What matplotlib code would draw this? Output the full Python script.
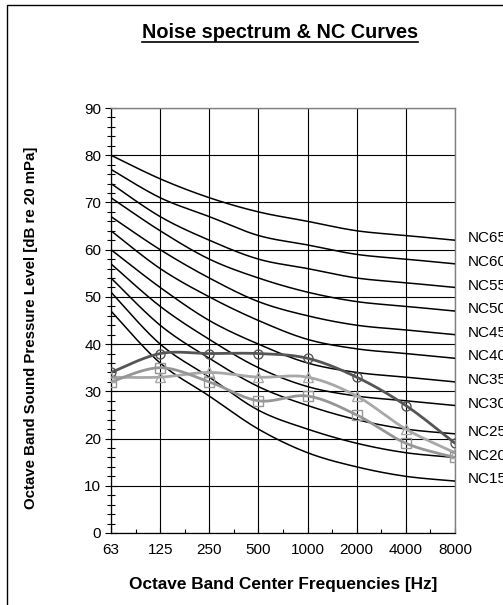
import matplotlib
matplotlib.use("Agg")
import matplotlib.pyplot as plt
import numpy as np
from matplotlib.patches import Rectangle
from matplotlib.ticker import MultipleLocator, FixedLocator
import matplotlib.transforms as mtransforms

plt.rcParams["font.family"] = ["Liberation Sans", "DejaVu Sans"]

freqs = ["63", "125", "250", "500", "1000", "2000", "4000", "8000"]

nc_names = ["NC65", "NC60", "NC55", "NC50", "NC45", "NC40",
            "NC35", "NC30", "NC25", "NC20", "NC15"]
nc65 = [80, 75, 71, 68, 66, 64, 63, 62]
nc60 = [77, 71, 67, 63, 61, 59, 58, 57]
nc55 = [74, 67, 62, 58, 56, 54, 53, 52]
nc50 = [71, 64, 58, 54, 51, 49, 48, 47]
nc45 = [67, 60, 54, 49, 46, 44, 43, 42]
nc40 = [64, 56, 50, 45, 41, 39, 38, 37]
nc35 = [60, 52, 45, 40, 36, 34, 33, 32]
nc30 = [57, 48, 41, 35, 31, 29, 28, 27]
nc25 = [54, 44, 37, 31, 27, 24, 22, 21]
nc20 = [51, 40, 33, 26, 22, 19, 17, 16]
nc15 = [47, 36, 29, 22, 17, 14, 12, 11]
nc_curves = [nc65, nc60, nc55, nc50, nc45, nc40, nc35, nc30, nc25, nc20, nc15]

spec_circle = [34, 38, 38, 38, 37, 33, 27, 19]
spec_triangle = [33, 33, 34, 33, 33, 29, 22, 17]
spec_square = [32, 35, 32, 28, 29, 25, 19, 16]


def smooth(y, n=30):
    # Excel-style smoothed line: cubic Bezier segments, tension 1/6
    pts = np.column_stack([np.arange(len(y)), y]).astype(float)
    out = [pts[0]]
    for i in range(len(pts) - 1):
        p0 = pts[max(i - 1, 0)]
        p1 = pts[i]
        p2 = pts[i + 1]
        p3 = pts[min(i + 2, len(pts) - 1)]
        c1 = p1 + (p2 - p0) / 6
        c2 = p2 - (p3 - p1) / 6
        t = np.linspace(0, 1, n)[1:, None]
        seg = ((1 - t) ** 3 * p1 + 3 * (1 - t) ** 2 * t * c1
               + 3 * (1 - t) * t ** 2 * c2 + t ** 3 * p2)
        out.extend(seg)
    out = np.array(out)
    return out[:, 0], out[:, 1]


W, H = 503, 605
fig = plt.figure(figsize=(W / 100, H / 100), dpi=100)
ax = fig.add_axes([111 / W, 1 - 533 / H, 344 / W, 425 / H])

x = np.arange(len(freqs))

for ys in nc_curves:
    sx, sy = smooth(ys)
    ax.plot(sx, sy, color="black", lw=1.1, zorder=3)

trans = mtransforms.blended_transform_factory(ax.transAxes, ax.transData)
for name, ys in zip(nc_names, nc_curves):
    ax.text(1 + 13 / 344, ys[-1] + 0.4, name, transform=trans,
            fontsize=11, va="center", ha="left", clip_on=False)

series = [
    (spec_circle, "#555555", "o"),
    (spec_triangle, "#a8a8a8", "^"),
    (spec_square, "#969696", "s"),
]
for ys, col, mk in series:
    sx, sy = smooth(ys)
    ax.plot(sx, sy, color=col, lw=2.0, zorder=4, solid_capstyle="round")
    ax.plot(x, ys, ls="none", marker=mk, ms=6.5, mfc="none",
            mec=col, mew=1.0, zorder=5)

ax.set_xlim(0, len(freqs) - 1)
ax.set_ylim(0, 90)
ax.set_xticks(x)
ax.set_xticklabels(freqs, fontsize=11)
ax.xaxis.set_minor_locator(FixedLocator(x[:-1] + 0.5))
ax.yaxis.set_major_locator(MultipleLocator(10))
ax.yaxis.set_minor_locator(MultipleLocator(2))
ax.tick_params(axis="y", which="major", direction="inout", length=8,
               width=0.8, labelsize=11, pad=3)
ax.tick_params(axis="y", which="minor", direction="inout", length=6, width=0.8)
ax.tick_params(axis="x", which="major", direction="in", length=4,
               width=0.8, pad=7)
ax.tick_params(axis="x", which="minor", direction="in", length=3, width=0.8)

ax.grid(True, which="major", color="black", lw=0.8, zorder=1)
ax.set_axisbelow(True)
for side in ("top", "right"):
    ax.spines[side].set_color("#808080")
    ax.spines[side].set_linewidth(1.0)
for side in ("left", "bottom"):
    ax.spines[side].set_color("black")
    ax.spines[side].set_linewidth(0.9)

title = fig.text(280 / W, 1 - 33 / H, "Noise spectrum & NC Curves",
                 fontsize=14.3, fontweight="bold", ha="center", va="center")
fig.text(283 / W, 1 - 585 / H, "Octave Band Center Frequencies [Hz]",
         fontsize=12.4, fontweight="bold", ha="center", va="center")
fig.text(31 / W, 1 - 328 / H, "Octave Band Sound Pressure Level [dB re 20 mPa]",
         fontsize=10.8, fontweight="bold", ha="center", va="center", rotation=90)

# underline the title along its own width
fig.canvas.draw()
bb = title.get_window_extent().transformed(fig.transFigure.inverted())
fig.add_artist(plt.Line2D([bb.x0, bb.x1], [1 - 42 / H, 1 - 42 / H],
                          color="black", lw=1.2))

fig.add_artist(Rectangle((7 / W, -0.1), 1.2, (1 - 5 / H) + 0.1,
                         transform=fig.transFigure, fill=False,
                         edgecolor="black", lw=1.0))

fig.savefig("out.png", dpi=100)
